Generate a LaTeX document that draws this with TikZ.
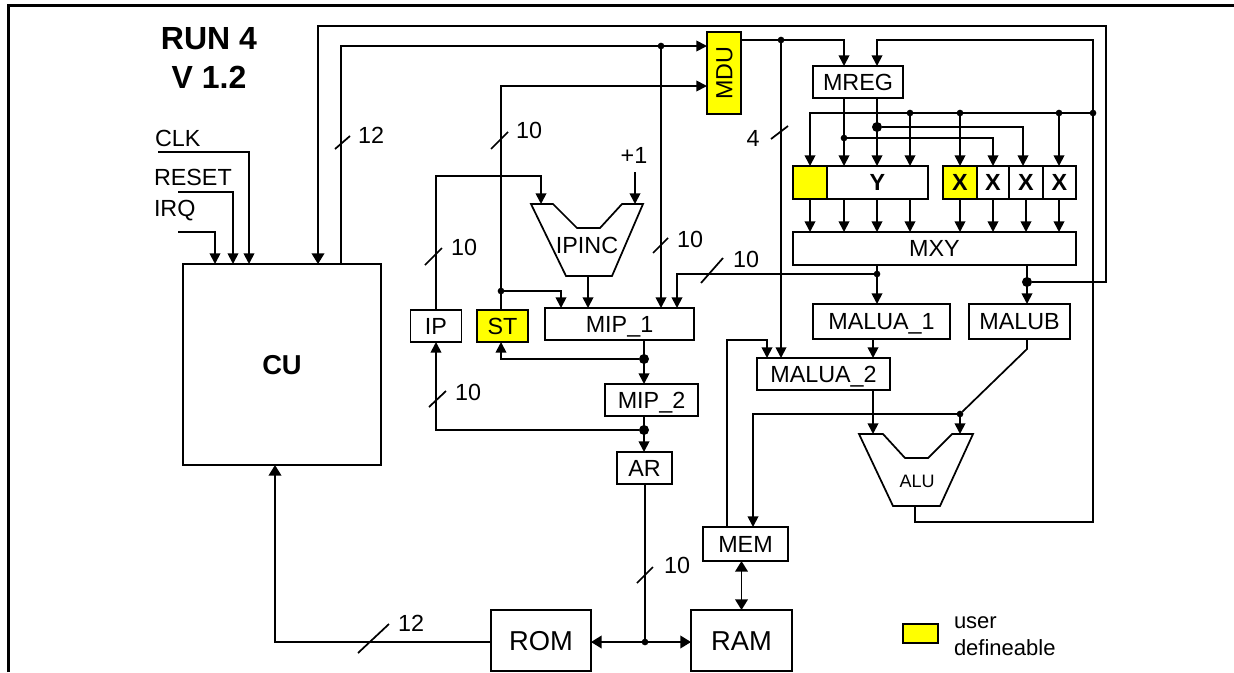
\documentclass[tikz,border=0pt]{standalone}
\usepackage{fontspec}
\setmainfont{Liberation Sans}
\usetikzlibrary{arrows.meta, positioning, shapes.geometric}
\definecolor{runYellow}{HTML}{FFFF00}
\tikzset{
  runsize/.style 2 args={minimum width=#1*0.75pt, minimum height=#2*0.75pt},
  runtext/.style={font=\fontsize{17.5}{20}\selectfont, inner sep=0pt, outer sep=0pt},
  runbox/.style={rectangle, draw=black, line width=1.3pt, fill=white, runtext, align=center,
                 inner sep=0pt, outer sep=0pt, text height=12.5pt, text depth=0pt},
  runuser/.style={runbox, fill=runYellow},
  runbig/.style={runbox, font=\fontsize{20.5}{24}\selectfont, text height=14.7pt},
  runline/.style={line width=1.3pt, color=black},
  runflow/.style={-{Triangle[length=8pt, width=8pt]}, line width=1.3pt, color=black},
  runflowbig/.style={-{Triangle[length=8pt, width=9.5pt]}, line width=1.3pt, color=black},
  rundot/.style={circle, fill=black, inner sep=0pt, outer sep=0pt, minimum size=5pt},
  rundotbig/.style={rundot, minimum size=7.5pt},
}
\begin{document}
\begin{tikzpicture}[x=0.75pt, y=-0.75pt]
  \useasboundingbox (0,0) rectangle (1234,672);
  \draw[line width=2.25pt](8.5,672)--(8.5,5.5)--(1234,5.5);
  \node[font=\fontsize{24}{29}\selectfont\bfseries, align=center, inner sep=0pt](title) at (209,58){RUN 4\\V 1.2};
  % control and memories
  \node[runbox, runsize={198}{201}, font=\fontsize{20.5}{24}\selectfont\bfseries, text height=14.7pt](cu) at (282,364.5){CU};
  \node[runbig, runsize={100}{61}](rom) at (541,640.5){ROM};
  \node[runbig, runsize={101}{61}](ram) at (741.5,640.5){RAM};
  \node[runbox, runsize={85}{34}](mem) at (745.5,544){MEM};
  \node[runbox, runsize={55}{32}](ar) at (644.5,468){AR};
  \node[runbox, runsize={93}{32}](mip2) at (651.5,400){MIP\_2};
  \node[runbox, runsize={149}{32}](mip1) at (619.5,324){MIP\_1};
  \node[runbox, runsize={51}{32}](ip) at (436,326){IP};
  \node[runuser, runsize={51}{32}](st) at (502.5,326){ST};
  \node[runuser, runsize={82}{34}, rotate=90](mdu) at (724,73){MDU};
  % registers
  \node[runbox, runsize={90}{32}](mreg) at (858,82){MREG};
  \node[runuser, runsize={34}{33}](yell) at (810,182.5){};
  \node[runbox, runsize={101}{33}, right=0pt of yell, font=\fontsize{17.5}{20}\selectfont\bfseries](ycell){Y};
  \node[runuser, runsize={34}{33}, font=\fontsize{17.5}{20}\selectfont\bfseries](xa) at (960,182.5){X};
  \node[runbox, runsize={32}{33}, right=0pt of xa, font=\fontsize{17.5}{20}\selectfont\bfseries](xb){X};
  \node[runbox, runsize={34}{33}, right=0pt of xb, font=\fontsize{17.5}{20}\selectfont\bfseries](xc){X};
  \node[runbox, runsize={33}{33}, right=0pt of xc, font=\fontsize{17.5}{20}\selectfont\bfseries](xd){X};
  \node[runbox, runsize={283}{33}](mxy) at (934.5,248.5){MXY};
  \node[runbox, runsize={137}{35}](malua1) at (881.5,321.5){MALUA\_1};
  \node[runbox, runsize={101}{35}](malub) at (1019.5,321.5){MALUB};
  \node[runbox, runsize={133}{32}](malua2) at (823.5,374){MALUA\_2};
  % adders
  \draw[runline, fill=white, line join=miter](531,204)--(553,204)--(577,228)--(600,228)--(622,204)--(643,204)--(612,276)--(566,276)--cycle;
  \node[runtext](ipinc) at (587,245){IPINC};
  \draw[runline, fill=white, line join=miter](859,434)--(883,434)--(905,458)--(928,458)--(952,434)--(973,434)--(940,506)--(893,506)--cycle;
  \node[runtext, font=\fontsize{13.5}{16}\selectfont](alu) at (917,481){ALU};
  % labels
  \node[runtext, right=0pt](clk) at (155,138){CLK};
  \node[runtext, right=0pt](reset) at (154,177){RESET};
  \node[runtext, right=0pt](irq) at (154,211){IRQ};
  \node[runtext](plusone) at (634,155){+1};
  \node[runtext](busa) at (371,135){12};
  \node[runtext](busb) at (529,130){10};
  \node[runtext](busc) at (464,247){10};
  \node[runtext](busd) at (690,239){10};
  \node[runtext](buse) at (746,259){10};
  \node[runtext](busf) at (753,138){4};
  \node[runtext](busg) at (468,392){10};
  \node[runtext](bush) at (677,565){10};
  \node[runtext](busi) at (411,623){12};
  % junctions
  \node[rundot](jmdu) at (781,40){};
  \node[rundot](jcu) at (661,46){};
  \node[rundot](jst) at (501,291){};
  \node[rundotbig](jmip1) at (644,359){};
  \node[rundotbig](jmip2) at (644,430){};
  \node[rundot](jmxy) at (877,274){};
  \node[rundotbig](jmalub) at (1027,282){};
  \node[rundot](jalu) at (960,414){};
  \node[rundot](jbus) at (645,642){};
  \node[rundot](jq) at (844,138){};
  \node[rundotbig](jp) at (877,127){};
  \node[rundot](ja) at (910,113){};
  \node[rundot](jb) at (960,113){};
  \node[rundot](jc) at (1059,113){};
  \node[rundot](jright) at (1093,113){};
  % free ends and bends
  \coordinate(clkin) at (158,152);
  \coordinate(resetin) at (178,192);
  \coordinate(irqin) at (178,232);
  \coordinate(cuclk) at (249,264);
  \coordinate(cureset) at (233,264);
  \coordinate(cuirq) at (215,264);
  \coordinate(cuback) at (318,264);
  \coordinate(cuout) at (341,264);
  \coordinate(cuin) at (275,465);
  \coordinate(topright) at (1106,26);
  \coordinate(mduina) at (707,46);
  \coordinate(mduinb) at (707,86);
  \coordinate(ipturn) at (541,176);
  \coordinate(ipinca) at (541,204);
  \coordinate(onein) at (635,172);
  \coordinate(ipincb) at (635,204);
  \coordinate(ipincout) at (588,276);
  \coordinate(mipst) at (561,308);
  \coordinate(mipmx) at (677,308);
  \coordinate(xcin) at (1023,166);
  \coordinate(aluout) at (915,506);
  \coordinate(loopb) at (1093,522);
  \coordinate(loopt) at (1093,40);
  \coordinate(alua) at (873,434);
  \coordinate(alub) at (960,434);
  \coordinate(malbend) at (1027,349);
  \coordinate(memin) at (753,527);
  \coordinate(memout) at (727,527);
  \coordinate(malturn) at (767,340);
  \coordinate(malin) at (767,358);
  % inputs and cu
  \draw[runflow](clkin)-|(cuclk);
  \draw[runflow](resetin)-|(cureset);
  \draw[runflow](irqin)-|(cuirq);
  \draw[runflowbig](jmalub)-|(topright)-|(cuback);
  \draw[runflow](cuout)|-(mduina);
  \draw[runflow](jcu)--(jcu|-mip1.north);
  \draw[runflowbig](rom.west|-jbus)-|(cuin);
  % ip and st
  \draw[runflow](jst|-st.north)|-(mduinb);
  \draw[runflow](jst)-|(mipst);
  \draw[runflow](ip.north)|-(ipturn)--(ipinca);
  \draw[runflow](onein)--(ipincb);
  \draw[runflow](ipincout)--(ipincout|-mip1.north);
  \draw[runflow](jmip1|-mip1.south)--(jmip1|-mip2.north);
  \draw[runflow](jmip1)-|(jst|-st.south);
  \draw[runflow](jmip2|-mip2.south)--(jmip2|-ar.north);
  \draw[runflow](jmip2)-|(ip.south);
  \draw[runline](jbus|-ar.south)--(jbus);
  \draw[runflowbig](jbus)--(rom.east|-jbus);
  \draw[runflowbig](jbus)--(ram.west|-jbus);
  \draw[{Triangle[length=8pt, width=9.5pt]}-{Triangle[length=8pt, width=9.5pt]}, runline](ram.north|-mem.south)--(ram.north);
  % registers
  \draw[runflow](mdu.south|-jmdu)-|(jq|-mreg.north);
  \draw[runflow](jmdu)--(jmdu|-malua2.north);
  \draw[runflow](jq|-mreg.south)--(jq|-ycell.north);
  \draw[runflow](jp|-mreg.south)--(jp|-ycell.north);
  \draw[runflow](jq)-|(xb.north);
  \draw[runflow](jp)-|(xcin);
  \draw[runflow](jright)-|(yell.north);
  \draw[runflow](ja)--(ja|-ycell.north);
  \draw[runflow](jb)--(xa.north);
  \draw[runflow](jc)--(jc|-xd.north);
  \draw[runflow](yell.south)--(yell.south|-mxy.north);
  \draw[runflow](jq|-ycell.south)--(jq|-mxy.north);
  \draw[runflow](jp|-ycell.south)--(jp|-mxy.north);
  \draw[runflow](ja|-ycell.south)--(ja|-mxy.north);
  \draw[runflow](xa.south)--(xa.south|-mxy.north);
  \draw[runflow](xb.south)--(xb.south|-mxy.north);
  \draw[runflow](xc.south)--(xc.south|-mxy.north);
  \draw[runflow](jc|-xd.south)--(jc|-mxy.north);
  \draw[runflow](jmxy|-mxy.south)--(jmxy|-malua1.north);
  \draw[runflow](jmxy)-|(mipmx);
  \draw[runflow](jmalub|-mxy.south)--(jmalub|-malub.north);
  % alu and mem
  \draw[runflow](alua|-malua1.south)--(alua|-malua2.north);
  \draw[runflow](alua|-malua2.south)--(alua);
  \draw[runline](jmalub|-malub.south)--(malbend)--(jalu);
  \draw[runflow](jalu)--(alub);
  \draw[runflow](jalu)-|(memin);
  \draw[runflow](memout)|-(malturn)--(malin);
  \draw[runflow](aluout)|-(loopb)--(loopt)-|(jp|-mreg.north);
  % bus ticks
  \draw[runline](335,149)--(350,136);
  \draw[runline](491,149)--(508,132);
  \draw[runline](425,265)--(442,248);
  \draw[runline](653,253)--(668,238);
  \draw[runline](701,283)--(723,258);
  \draw[runline](771,139)--(788,126);
  \draw[runline](429,407)--(446,391);
  \draw[runline](637,583)--(653,567);
  \draw[runline](358,653)--(389,624);
  % legend
  \node[runuser, runsize={35}{19}](legbox) at (920.5,633.5){};
  \node[runtext, font=\fontsize{16.5}{20}\selectfont, align=left, anchor=west](legtext) at (954,636){user\\defineable};
\end{tikzpicture}
\end{document}
